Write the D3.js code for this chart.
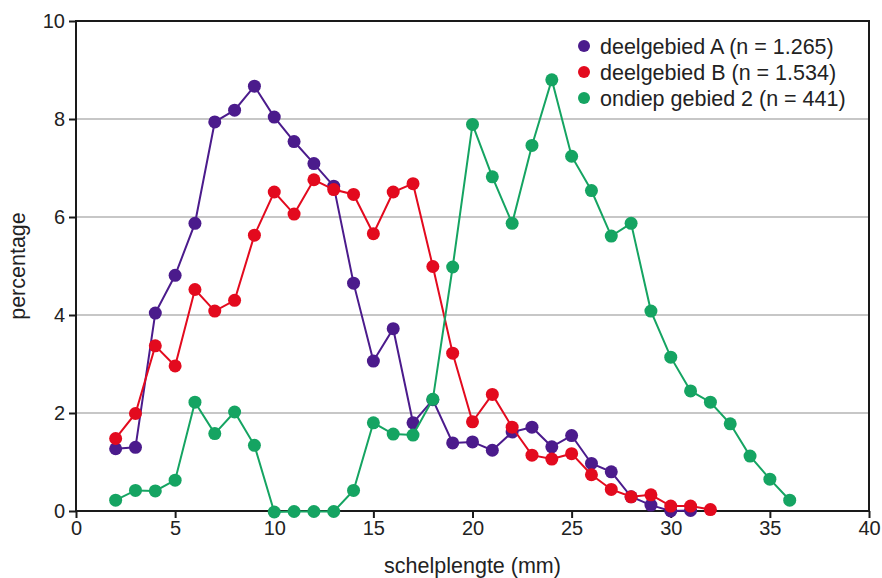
<!DOCTYPE html>
<html><head><meta charset="utf-8">
<script src="https://cdn.jsdelivr.net/npm/d3@7"></script>
<style>body{margin:0;background:#fff}svg{display:block}text{font-family:"Liberation Sans",Arial,sans-serif;fill:#222}</style>
</head><body><svg id="c" width="882" height="578"></svg>
<script>
const seriesNames = ["deelgebied A (n = 1.265)", "deelgebied B (n = 1.534)", "ondiep gebied 2 (n = 441)"];
const seriesColors = ["#4b1b8c", "#e30a1e", "#15a462"];
const xA = d3.range(2, 32);
const valuesA = [1.27,1.3,4.04,4.81,5.87,7.94,8.18,8.67,8.04,7.54,7.09,6.63,4.65,3.06,3.72,1.8,2.27,1.39,1.41,1.24,1.61,1.71,1.31,1.54,0.97,0.8,0.29,0.12,0.0,0.01];
const xB = d3.range(2, 33);
const valuesB = [1.48,1.99,3.37,2.96,4.52,4.08,4.3,5.63,6.51,6.06,6.76,6.56,6.46,5.66,6.51,6.68,4.99,3.22,1.82,2.38,1.71,1.14,1.06,1.17,0.74,0.44,0.29,0.33,0.1,0.1,0.03];
const xC = d3.range(2, 37);
const valuesC = [0.22,0.42,0.41,0.63,2.22,1.58,2.02,1.34,-0.02,-0.01,-0.01,-0.01,0.42,1.8,1.57,1.55,2.28,4.98,7.89,6.82,5.87,7.46,8.8,7.24,6.54,5.61,5.87,4.08,3.14,2.45,2.22,1.78,1.12,0.65,0.22];
const xTicks = [0,5,10,15,20,25,30,35,40];
const yTicks = [0,2,4,6,8,10];
const xTitle = "schelplengte (mm)";
const yTitle = "percentage";

const svg = d3.select("#c");
const L = 76, R = 869, T = 21, B = 511;
const x = d3.scaleLinear().domain([0,40]).range([L,R]);
const y = d3.scaleLinear().domain([0,10]).range([B,T]);

svg.append("g").selectAll("line").data(yTicks.filter(v=>v>0&&v<10)).join("line")
  .attr("x1",L).attr("x2",R).attr("y1",d=>y(d)).attr("y2",d=>y(d))
  .attr("stroke","#b4b4b4").attr("stroke-width",1.3);

svg.append("rect").attr("x",L).attr("y",T).attr("width",R-L).attr("height",B-T)
  .attr("fill","none").attr("stroke","#1a1a1a").attr("stroke-width",2);

const xAxis = svg.append("g").attr("transform",`translate(0,${B})`)
  .call(d3.axisBottom(x).tickValues(xTicks).tickSize(7).tickPadding(3).tickFormat(d3.format("d")));
const yAxis = svg.append("g").attr("transform",`translate(${L},0)`)
  .call(d3.axisLeft(y).tickValues(yTicks).tickSize(7).tickPadding(4).tickFormat(d3.format("d")));
[xAxis,yAxis].forEach(a=>{
  a.select(".domain").remove();
  a.selectAll(".tick line").attr("stroke","#1a1a1a").attr("stroke-width",2);
  a.selectAll(".tick text").attr("font-size",20).attr("fill","#222")
    .style("font-family","'Liberation Sans',Arial,sans-serif");
});

const data = [
  {xs:xA, vs:valuesA},
  {xs:xB, vs:valuesB},
  {xs:xC, vs:valuesC}
];
const line = d3.line().x(d=>x(d[0])).y(d=>y(d[1]));
data.forEach((s,i)=>{
  const pts = s.xs.map((xv,j)=>[xv,s.vs[j]]);
  const g = svg.append("g");
  g.append("path").datum(pts).attr("d",line).attr("fill","none")
    .attr("stroke",seriesColors[i]).attr("stroke-width",2);
  g.selectAll("circle").data(pts).join("circle")
    .attr("cx",d=>x(d[0])).attr("cy",d=>y(d[1])).attr("r",6.5)
    .attr("fill",seriesColors[i]);
});

const leg = svg.append("g");
seriesNames.forEach((n,i)=>{
  const yy = 46 + i*26;
  leg.append("circle").attr("cx",584).attr("cy",yy).attr("r",6).attr("fill",seriesColors[i]);
  leg.append("text").attr("x",600).attr("y",yy).attr("dy","0.35em").attr("font-size",21.5).text(n);
});

svg.append("text").attr("x",(L+R)/2).attr("y",573).attr("text-anchor","middle")
  .attr("font-size",21.5).text(xTitle);
svg.append("text").attr("transform",`translate(25,${(T+B)/2}) rotate(-90)`)
  .attr("text-anchor","middle").attr("font-size",21.5).text(yTitle);
</script></body></html>
